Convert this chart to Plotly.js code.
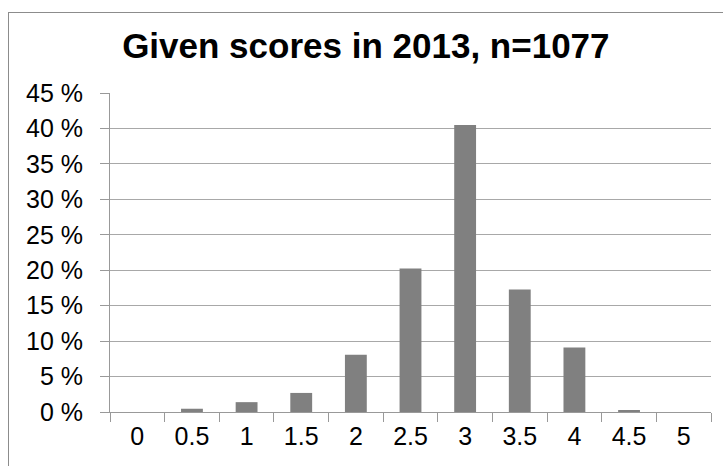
<!DOCTYPE html>
<html>
<head>
<meta charset="utf-8">
<script src="https://cdn.plot.ly/plotly-3.0.1.min.js"></script>
<style>
  html, body { margin: 0; padding: 0; width: 723px; height: 466px; overflow: hidden; background: #fff; }
  #frame { position: absolute; left: 8px; top: 12px; width: 760px; height: 500px;
           border: 1px solid #8c8c8c; box-sizing: border-box; pointer-events: none; z-index: 2; }
  #chart { position: absolute; left: 0; top: 0; width: 723px; height: 466px; }
</style>
</head>
<body>
<div id="chart"></div>
<div id="frame"></div>
<script>
// Score categories and the share of respondents (%) giving each score
const scores = ['0', '0.5', '1', '1.5', '2', '2.5', '3', '3.5', '4', '4.5', '5'];
const sharePct = [0, 0.46, 1.39, 2.69, 8.08, 20.24, 40.48, 17.27, 9.1, 0.28, 0];
const yTicks = [0, 5, 10, 15, 20, 25, 30, 35, 40, 45];
const chartTitle = 'Given scores in 2013, n=1077';

const font = 'Liberation Sans, Arial, sans-serif';

Plotly.newPlot('chart', [{
  type: 'bar',
  x: scores,
  y: sharePct,
  marker: { color: '#808080', line: { width: 0 } },
  width: 0.4,
  hoverinfo: 'x+y'
}], {
  width: 723,
  height: 466,
  margin: { l: 110, r: 12, t: 93, b: 54 },
  paper_bgcolor: '#ffffff',
  plot_bgcolor: '#ffffff',
  showlegend: false,
  title: {
    text: '<b>' + chartTitle + '</b>',
    font: { family: font, size: 35, color: '#000' },
    x: 0.506, xanchor: 'center', xref: 'container',
    y: 0.902, yanchor: 'middle'
  },
  xaxis: {
    type: 'category',
    showgrid: false,
    showline: true, linecolor: '#999', linewidth: 1,
    ticks: 'outside', tickson: 'boundaries', ticklen: 9, tickcolor: '#999',
    tickfont: { family: font, size: 25, color: '#000' },
    ticklabelstandoff: 2,
    zeroline: false
  },
  yaxis: {
    range: [0, 45],
    tickvals: yTicks,
    ticktext: yTicks.map(v => v + ' %'),
    showgrid: true, gridcolor: '#a8a8a8', gridwidth: 1.2,
    showline: true, linecolor: '#999', linewidth: 1,
    ticks: 'outside', ticklen: 9, tickcolor: '#999',
    tickfont: { family: font, size: 25, color: '#000' },
    ticklabelstandoff: 12,
    zeroline: false
  }
}, { staticPlot: true });
</script>
</body>
</html>
